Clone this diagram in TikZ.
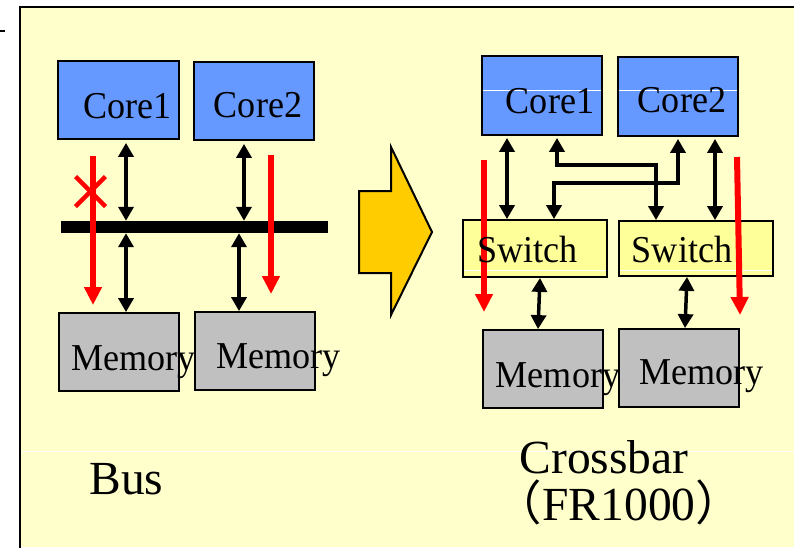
\documentclass[tikz,border=0pt]{standalone}
\usepackage{fontspec}
\setmainfont{Liberation Serif}
\newfontfamily\lblfont[FakeStretch=0.95]{Liberation Serif}
\newfontfamily\cjk{Noto Sans CJK JP}
\usetikzlibrary{arrows.meta,calc}
\definecolor{bg}{HTML}{FFFFCC}
\definecolor{corec}{HTML}{6699FF}
\definecolor{swc}{HTML}{FFFF99}
\definecolor{memc}{HTML}{C0C0C0}
\definecolor{bigarr}{HTML}{FFCC00}
\tikzset{
  box/.style={draw=black, line width=1.8pt, inner sep=0pt, rectangle},
  corebox/.style={box, fill=corec},
  swbox/.style={box, fill=swc},
  membox/.style={box, fill=memc},
  lbl/.style={font=\lblfont\fontsize{38}{42}\selectfont, inner sep=0pt, anchor=base},
  biglbl/.style={font=\fontsize{47.5}{52}\selectfont, inner sep=0pt, anchor=base},
  dbl/.style={line width=3.5pt, {Triangle[width=15pt,length=14pt]}-{Triangle[width=15pt,length=14pt]}},
  redarr/.style={draw=red, line width=6pt, -{Triangle[width=17pt,length=18pt]}},
  hl/.style={draw=white, line width=0.8pt}
}
\begin{document}
\begin{tikzpicture}[x=1pt,y=-1pt]
\useasboundingbox (0,0) rectangle (794,547);
\fill[white] (0,0) rectangle (794,547);
% frame
\fill[bg] (20,7) rectangle (794,547);
\draw[line width=2pt] (20,548) -- (20,7) -- (795,7);
\draw[line width=1.5pt] (0,31) -- (5,31);
\draw[hl] (21,451) -- (794,451);

% ---------- Bus side ----------
\node[corebox, minimum width=121, minimum height=78] (c1) at (118.5,100) {};
\node[corebox, minimum width=120, minimum height=78] (c2) at (254,101) {};
\node[membox, minimum width=120, minimum height=78] (m1) at (119,352) {};
\node[membox, minimum width=120, minimum height=78] (m2) at (255,351) {};
\node[fill=black, inner sep=0pt, minimum width=267, minimum height=12] (bus) at (194.5,227) {};

\draw[dbl, shorten <=3pt] (126,0 |- c1.south) -- (126,0 |- bus.north);
\draw[dbl] (126,0 |- bus.south) -- (126,0 |- m1.north);
\draw[dbl, shorten <=3pt] (244,0 |- c2.south) -- (244,0 |- bus.north);
\draw[dbl] (239,0 |- bus.south) -- (239,0 |- m2.north);

\coordinate (ra1s) at (93,156);
\coordinate (ra1e) at (93,305);
\coordinate (ra2s) at (271,155);
\coordinate (ra2e) at (271,294);
\draw[redarr] (ra1s) -- (ra1e);
\draw[redarr] (ra2s) -- (ra2e);
\coordinate (xc) at (90.5,191.5);
\draw[red, line width=4.5pt] ($(xc)+(-15,-15)$) -- ($(xc)+(15,15)$);
\draw[red, line width=4.5pt] ($(xc)+(-15,15)$) -- ($(xc)+(15,-15)$);

\node[lbl] (tc1) at (127.5,118) {Core1};
\node[lbl] (tc2) at (258,117) {Core2};
\node[lbl] (tm1) at (133.5,370) {Memory};
\node[lbl] (tm2) at (278.5,368) {Memory};
\node[biglbl] (tbus) at (126.5,494) {Bus};

% ---------- big arrow ----------
\draw[line width=2pt, fill=bigarr, line join=miter]
  (359,191) -- (391,191) -- (391,147) -- (432,232) -- (391,315) -- (391,273) -- (359,273) -- cycle;

% ---------- Crossbar side ----------
\node[corebox, minimum width=120, minimum height=79] (rc1) at (542,95.5) {};
\node[corebox, minimum width=120, minimum height=79] (rc2) at (678,96.5) {};
\node[swbox, minimum width=144, minimum height=57] (s1) at (535,248.5) {};
\node[swbox, minimum width=154, minimum height=55] (s2) at (696,248.5) {};
\node[membox, minimum width=120, minimum height=78] (rm1) at (543,369) {};
\node[membox, minimum width=120, minimum height=78] (rm2) at (679,368) {};
\draw[hl] (483,90) -- (601,90);
\draw[hl] (619,90) -- (737,90);
\draw[hl] (464,270) -- (606,270);
\draw[hl] (620,270) -- (772,270);

\draw[dbl, shorten <=2pt] (507,0 |- rc1.south) -- (507,0 |- s1.north);
\draw[dbl, shorten <=2pt] (715,0 |- rc2.south) -- (715,0 |- s2.north);
\draw[dbl, shorten <=2pt, line join=miter] (557,0 |- rc1.south) -- (557,165) -- (656,165) -- (656,0 |- s2.north);
\draw[dbl, shorten <=2pt, line join=miter] (678,0 |- rc2.south) -- (678,183) -- (554,183) -- (554,0 |- s1.north);
\draw[dbl] (540,0 |- s1.south) -- (538,0 |- rm1.north);
\draw[dbl] (687,0 |- s2.south) -- (685,0 |- rm2.north);

\coordinate (ra3s) at (484,160);
\coordinate (ra3e) at (484,312);
\coordinate (ra4s) at (737,157);
\coordinate (ra4e) at (740,315);
\draw[redarr] (ra3s) -- (ra3e);
\draw[redarr] (ra4s) -- (ra4e);

\node[lbl] (trc1) at (550,113) {Core1};
\node[lbl] (trc2) at (682,112) {Core2};
\node[lbl] (ts1) at (527.5,262) {Switch};
\node[lbl] (ts2) at (682,262) {Switch};
\node[lbl] (trm1) at (558,387) {Memory};
\node[lbl] (trm2) at (701.5,384) {Memory};
\node[biglbl] (tcb) at (604,473) {Crossbar};
\node[biglbl] (tfr) at (619,520) {{\cjk （}FR1000{\cjk ）}};
\end{tikzpicture}
\end{document}
